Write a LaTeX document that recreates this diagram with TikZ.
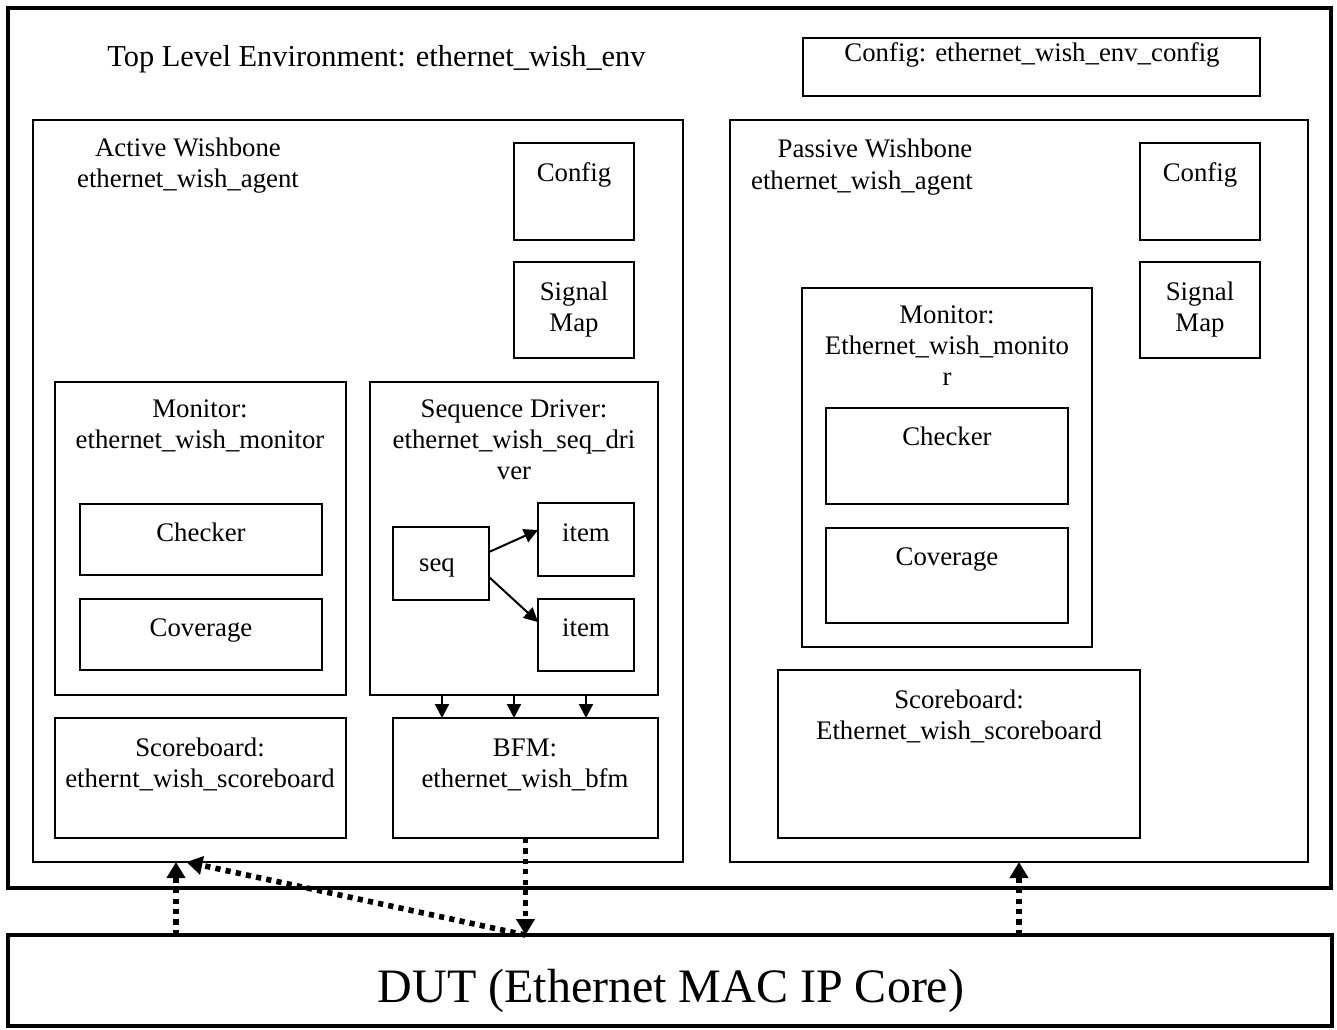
\documentclass[tikz,border=0pt]{standalone}
\usepackage{fontspec}
\setmainfont{Liberation Serif}
\usetikzlibrary{arrows.meta,calc}
\newcommand\mybox[6][box]{\node[#1,minimum width={(#5-#3)*0.5pt},minimum height={(#6-#4)*0.5pt}] (#2) at ({(#3+#5)/2},{(#4+#6)/2}) {};}
\begin{document}
\begin{tikzpicture}[x=0.5pt,y=-0.5pt,
 box/.style={draw,line width=1pt,inner sep=0pt,outer sep=0pt},
 thickbox/.style={draw,line width=2pt,inner sep=0pt,outer sep=0pt},
 txt/.style={font=\fontsize{13.4}{15.5}\selectfont,inner sep=0pt,anchor=base},
 ttl/.style={font=\fontsize{15.2}{18}\selectfont,inner sep=0pt,anchor=base west},
 big/.style={font=\fontsize{24}{28}\selectfont,inner sep=0pt,anchor=base},
 arr/.style={-{Triangle[length=7pt,width=7pt]},line width=1pt},
 dotarr/.style={-{Triangle[length=8pt,width=9pt]},line width=2.8pt,dash pattern=on 2.6pt off 2.6pt}]
\useasboundingbox (0,0) rectangle (1337,1029);
% boxes
\mybox[thickbox]{env}{8}{8}{1331}{888}
\mybox[thickbox]{dut}{8}{935}{1332}{1026}
\mybox{envcfg}{803}{38}{1260}{96}
\mybox{active}{33}{120}{683}{862}
\mybox{cfga}{514}{143}{634}{240}
\mybox{siga}{514}{262}{634}{358}
\mybox{mona}{55}{382}{346}{695}
\mybox{chka}{80}{504}{322}{575}
\mybox{cova}{80}{599}{322}{670}
\mybox{seqdrv}{370}{382}{658}{695}
\mybox{seq}{393}{527}{489}{600}
\mybox{itema}{538}{503}{634}{576}
\mybox{itemb}{538}{599}{634}{671}
\mybox{sba}{55}{718}{346}{838}
\mybox{bfm}{393}{718}{658}{838}
\mybox{passive}{730}{120}{1308}{862}
\mybox{cfgp}{1140}{143}{1260}{240}
\mybox{sigp}{1140}{262}{1260}{358}
\mybox{monp}{802}{288}{1092}{647}
\mybox{chkp}{826}{408}{1068}{504}
\mybox{covp}{826}{528}{1068}{623}
\mybox{sbp}{778}{670}{1140}{838}
% texts
\node[ttl] (t0) at (107,66) {Top Level Environment: ethernet\_wish\_env};
\node[txt] (t1) at (1032,61) {Config: ethernet\_wish\_env\_config};
\node[txt] (t2) at (188,156) {Active Wishbone};
\node[txt] (t3) at (188,187) {ethernet\_wish\_agent};
\node[txt] (t4) at (875,157) {Passive Wishbone};
\node[txt] (t5) at (862,189) {ethernet\_wish\_agent};
\node[txt] (t6) at (574,181) {Config};
\node[txt] (t7) at (574,300) {Signal};
\node[txt] (t8) at (574,331) {Map};
\node[txt] (t9) at (1200,181) {Config};
\node[txt] (t10) at (1200,300) {Signal};
\node[txt] (t11) at (1200,331) {Map};
\node[txt] (t12) at (200,417) {Monitor:};
\node[txt] (t13) at (200,448) {ethernet\_wish\_monitor};
\node[txt] (t14) at (201,541) {Checker};
\node[txt] (t15) at (201,636) {Coverage};
\node[txt] (t16) at (514,417) {Sequence Driver:};
\node[txt] (t17) at (514,448) {ethernet\_wish\_seq\_dri};
\node[txt] (t18) at (514,479) {ver};
\node[txt] (t19) at (437,571) {seq};
\node[txt] (t20) at (586,541) {item};
\node[txt] (t21) at (586,636) {item};
\node[txt] (t22) at (200,756) {Scoreboard:};
\node[txt] (t23) at (200,787) {ethernt\_wish\_scoreboard};
\node[txt] (t24) at (525,756) {BFM:};
\node[txt] (t25) at (525,787) {ethernet\_wish\_bfm};
\node[txt] (t26) at (947,323) {Monitor:};
\node[txt] (t27) at (947,354) {Ethernet\_wish\_monito};
\node[txt] (t28) at (947,385) {r};
\node[txt] (t29) at (947,445) {Checker};
\node[txt] (t30) at (947,565) {Coverage};
\node[txt] (t31) at (959,708) {Scoreboard:};
\node[txt] (t32) at (959,739) {Ethernet\_wish\_scoreboard};
\node[big] (t33) at (671,1002) {DUT (Ethernet MAC IP Core)};
% solid arrows
\draw[arr] ([yshift=5.75pt]seq.east) -- ([yshift=4.75pt]itema.west);
\draw[arr] ([yshift=-6.75pt]seq.east) -- ([yshift=6.5pt]itemb.west);
\foreach \f/\n in {0.25/p1,0.5/p2,0.75/p3}{
  \coordinate (\n) at ($(seqdrv.south west)!\f!(seqdrv.south east)$);
  \draw[arr] (\n) -- (\n |- bfm.north);
}
% dotted arrows
\coordinate (a1) at ($(active.south west)!0.22!(active.south east)$);
\coordinate (a2) at ($(active.south west)!0.236!(active.south east)$);
\coordinate (a3) at (passive.south);
\draw[dotarr] (a1 |- dut.north) -- (a1);
\draw[dotarr] (bfm.south) -- (bfm.south |- dut.north);
\draw[dotarr] (bfm.south |- dut.north) -- (a2);
\draw[dotarr] (a3 |- dut.north) -- (a3);
\end{tikzpicture}
\end{document}
